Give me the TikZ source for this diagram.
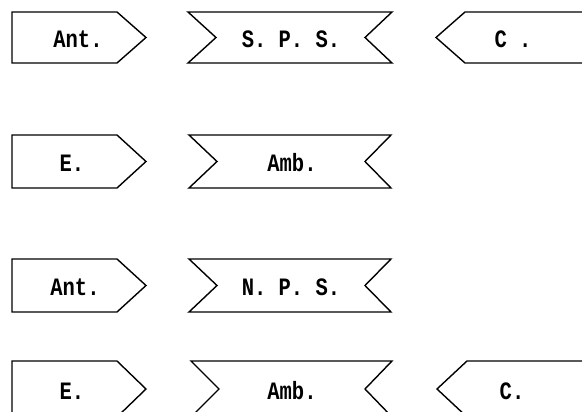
\documentclass[tikz,border=0pt]{standalone}
\usepackage{fontspec}
\setmonofont{Liberation Mono}
\newcommand\tallt[1]{\scalebox{1}[1.22]{#1}}
\begin{document}
\begin{tikzpicture}[x=1pt,y=-1pt,
  outline/.style={line width=1.4pt, line join=miter, black},
  lbl/.style={font=\ttfamily\bfseries\fontsize{20.5}{20.5}\selectfont, inner sep=0pt, anchor=center}]
\useasboundingbox (0,0) rectangle (582,412);
\clip (0,0) rectangle (582,412);
% Row 1
\draw[outline] (12,12) -- (117,12) -- (146,37.5) -- (117,63) -- (12,63) -- cycle;
\draw[outline] (188,12) -- (392,12) -- (365,37.5) -- (392,63) -- (188,63) -- (216,37.5) -- cycle;
\draw[outline] (583,12) -- (465,12) -- (436,37.5) -- (465,63) -- (583,63);
\node[lbl] (ant1) at (78,39) {\tallt{Ant.}};
\node[lbl] (sps) at (291,39) {\tallt{S. P. S.}};
\node[lbl] (c1) at (513,39) {\tallt{C .}};
% Row 2
\draw[outline] (12,135) -- (117,135) -- (146,161.5) -- (117,188) -- (12,188) -- cycle;
\draw[outline] (189,135) -- (391,135) -- (365,161.5) -- (391,188) -- (189,188) -- (217,161.5) -- cycle;
\node[lbl] (e2) at (72,163) {\tallt{E.}};
\node[lbl] (amb2) at (292,163) {\tallt{Amb.}};
% Row 3
\draw[outline] (12,259) -- (117,259) -- (146,285.5) -- (117,312) -- (12,312) -- cycle;
\draw[outline] (189,259) -- (391,259) -- (365,285.5) -- (391,312) -- (189,312) -- (217,285.5) -- cycle;
\node[lbl] (ant3) at (75,287) {\tallt{Ant.}};
\node[lbl] (nps) at (291,287) {\tallt{N. P. S.}};
% Row 4
\draw[outline] (12,361) -- (117,361) -- (146,389) -- (117,417) -- (12,417) -- cycle;
\draw[outline] (191,361) -- (392,361) -- (365,389) -- (392,417) -- (191,417) -- (219,389) -- cycle;
\draw[outline] (583,361) -- (467,361) -- (437,389) -- (467,417) -- (583,417);
\node[lbl] (e4) at (72,391) {\tallt{E.}};
\node[lbl] (amb4) at (292,391) {\tallt{Amb.}};
\node[lbl] (c4) at (512,391) {\tallt{C.}};
\end{tikzpicture}
\end{document}
